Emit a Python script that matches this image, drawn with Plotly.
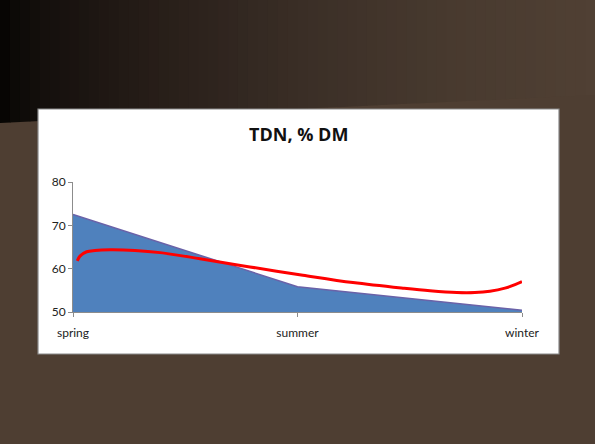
import plotly.graph_objects as go

# ---- data ----
categories = ["spring", "summer", "winter"]
cat_pos = [0, 1, 2]
tdn_values = [72.5, 55.85, 50.4]

# red trend curve (x in category units)
trend_x = [0.019, 0.031, 0.061, 0.098, 0.165, 0.276, 0.388, 0.566, 0.788, 1.024,
           1.247, 1.47, 1.59, 1.71, 1.79, 1.857, 1.924, 1.969, 2.0]
trend_y = [61.8, 62.9, 63.9, 64.2, 64.35, 64.2, 63.7, 62.3, 60.4, 58.5,
           56.8, 55.5, 54.9, 54.5, 54.5, 54.8, 55.5, 56.3, 57.0]

y_ticks = [50, 60, 70, 80]

# ---- layout geometry (pixels) ----
W, H = 595, 444
L, R, T, B = 73, 522, 182, 312


def px(x):
    return (x - L) / (R - L)


def py(y):
    return (B - y) / (B - T)


def lerp(a, b, t):
    return a + (b - a) * t


fig = go.Figure()

fig.add_trace(go.Scatter(
    x=cat_pos, y=tdn_values, mode="lines", fill="tozeroy",
    fillcolor="#4f81bd", line=dict(color="#6a62a8", width=1.5),
    hoverinfo="skip", showlegend=False,
))
fig.add_trace(go.Scatter(
    x=trend_x, y=trend_y, mode="lines", line=dict(color="#ff0000", width=3, shape="spline"),
    hoverinfo="skip", showlegend=False,
))

shapes = []
# dark gradient band at the top
N = 60
stops = [(0, (0, 0, 0)), (8, (10, 8, 5)), (40, (20, 15, 12)), (150, (38, 29, 24)),
         (300, (58, 46, 38)), (450, (72, 58, 47)), (595, (80, 64, 52))]


def grad(x):
    for (x0, c0), (x1, c1) in zip(stops[:-1], stops[1:]):
        if x0 <= x <= x1:
            t = (x - x0) / (x1 - x0) if x1 > x0 else 0
            return tuple(lerp(a, b, t) for a, b in zip(c0, c1))
    return stops[-1][1]


def ybot(x):
    return lerp(123, 95, x / W)


for i in range(N):
    x0 = W * i / N
    x1 = W * (i + 1) / N + 0.6
    c = grad((x0 + x1) / 2)
    path = "M %f,%f L %f,%f L %f,%f L %f,%f Z" % (
        px(x0), py(0), px(x1), py(0), px(x1), py(ybot(x1)), px(x0), py(ybot(x0)))
    shapes.append(dict(type="path", path=path, xref="paper", yref="paper",
                       fillcolor="rgb(%d,%d,%d)" % tuple(round(v) for v in c),
                       line=dict(width=0), layer="below"))

# white chart box
shapes.append(dict(type="rect", xref="paper", yref="paper",
                   x0=px(38), x1=px(559), y0=py(109), y1=py(354),
                   fillcolor="white", line=dict(color="#8a8a8a", width=1.2), layer="below"))

fig.update_layout(
    width=W, height=H,
    margin=dict(l=L, r=W - R, t=T, b=H - B),
    paper_bgcolor="rgb(78,62,50)",
    plot_bgcolor="white",
    shapes=shapes,
    showlegend=False,
    annotations=[dict(text="<b>TDN, % DM</b>", xref="paper", yref="paper",
                      x=px(298), y=py(134), xanchor="center", yanchor="middle",
                      showarrow=False,
                      font=dict(family="Open Sans", size=18, color="#111"))],
    xaxis=dict(range=[0, 2], tickvals=cat_pos, ticktext=categories,
               showgrid=False, zeroline=False, showline=True, linecolor="#8c8c8c",
               ticks="outside", ticklen=4, tickcolor="#8c8c8c",
               ticklabelstandoff=6,
               tickfont=dict(family="Lato", size=12, color="#222")),
    yaxis=dict(range=[50, 80], tickvals=y_ticks,
               showgrid=False, zeroline=False, showline=True, linecolor="#8c8c8c",
               ticks="outside", ticklen=4, tickcolor="#8c8c8c",
               tickfont=dict(family="Lato", size=12, color="#222")),
)

fig.write_html("out.html")
